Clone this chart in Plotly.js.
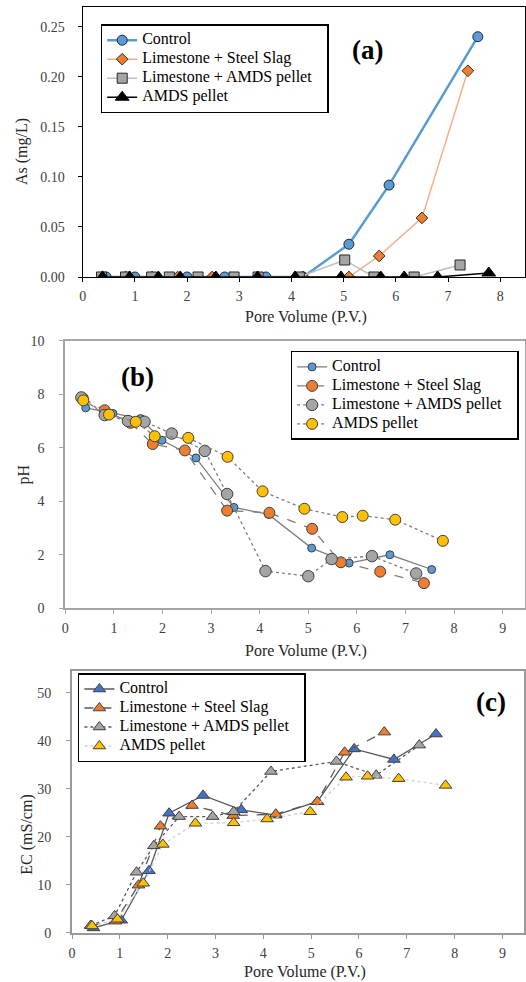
<!DOCTYPE html>
<html>
<head>
<meta charset="utf-8">
<script src="https://cdn.plot.ly/plotly-3.0.1.min.js"></script>
<style>html,body{margin:0;padding:0;background:#fff;}#chart{width:526px;height:982px;}</style>
</head>
<body>
<div id="chart"></div>
<script>
// ---------- Panel (a): As (mg/L) ----------
const seriesNames = ["Control", "Limestone + Steel Slag", "Limestone + AMDS pellet", "AMDS pellet"];

const asControlX = [0.45, 1.0, 2.0, 2.72, 3.51, 4.22, 5.1, 5.87, 7.57];
const asControlY = [0, 0, 0, 0, 0, 0, 0.0327, 0.0918, 0.240];
const asSlagX = [0.38, 0.82, 1.33, 1.82, 2.48, 3.35, 4.22, 5.1, 5.68, 6.5, 7.38];
const asSlagY = [0, 0, 0, 0, 0, 0, 0, 0, 0.021, 0.059, 0.206];
const asLimeAmdsX = [0.36, 0.82, 1.32, 1.66, 2.21, 2.9, 3.36, 4.15, 5.02, 5.58, 6.35, 7.23];
const asLimeAmdsY = [0, 0, 0, 0, 0, 0, 0, 0, 0.017, 0, 0, 0.012];
const asAmdsX = [0.38, 0.9, 1.45, 1.87, 2.55, 3.35, 4.07, 4.95, 5.71, 6.16, 6.8, 7.78];
const asAmdsY = [0, 0, 0, 0, 0, 0, 0, 0, 0, 0, 0, 0.004];

// ---------- Panel (b): pH ----------
const phControlX = [0.42, 0.98, 1.55, 1.99, 2.69, 3.47, 4.18, 5.07, 5.84, 6.68, 7.54];
const phControlY = [7.49, 7.28, 7.09, 6.28, 5.62, 3.77, 3.51, 2.25, 1.69, 2.0, 1.45];
const phSlagX = [0.36, 0.81, 1.34, 1.8, 2.46, 3.33, 4.2, 5.08, 5.67, 6.48, 7.38];
const phSlagY = [7.85, 7.4, 6.93, 6.14, 5.9, 3.65, 3.57, 2.97, 1.72, 1.37, 0.94];
const phLimeAmdsX = [0.33, 0.81, 1.29, 1.63, 2.19, 2.87, 3.33, 4.12, 5.0, 5.48, 6.31, 7.22];
const phLimeAmdsY = [7.88, 7.22, 7.0, 6.97, 6.53, 5.88, 4.27, 1.39, 1.2, 1.84, 1.95, 1.3];
const phAmdsX = [0.37, 0.9, 1.45, 1.84, 2.53, 3.34, 4.06, 4.92, 5.7, 6.12, 6.79, 7.77];
const phAmdsY = [7.77, 7.24, 6.97, 6.43, 6.37, 5.66, 4.37, 3.72, 3.41, 3.46, 3.31, 2.52];

// ---------- Panel (c): EC (mS/cm) ----------
const ecControlX = [0.45, 1.03, 1.61, 2.03, 2.74, 3.54, 4.26, 5.13, 5.9, 6.73, 7.61];
const ecControlY = [1.0, 2.6, 12.9, 24.9, 28.6, 25.6, 24.5, 27.3, 38.3, 36.1, 41.4];
const ecSlagX = [0.4, 0.91, 1.39, 1.85, 2.51, 3.37, 4.26, 5.13, 5.7, 6.53];
const ecSlagY = [1.5, 2.4, 9.9, 22.2, 26.5, 24.4, 24.7, 27.3, 37.6, 41.8];
const ecLimeAmdsX = [0.39, 0.89, 1.35, 1.71, 2.24, 2.94, 3.38, 4.16, 5.53, 6.36, 7.26];
const ecLimeAmdsY = [1.5, 3.5, 12.6, 18.1, 24.2, 24.2, 25.2, 33.6, 35.7, 32.8, 39.1];
const ecAmdsX = [0.42, 0.95, 1.49, 1.9, 2.58, 3.38, 4.08, 4.98, 5.73, 6.18, 6.83, 7.81];
const ecAmdsY = [1.4, 2.8, 10.3, 18.4, 22.8, 22.9, 23.7, 25.2, 32.4, 32.6, 32.1, 30.7];

const xTitle = "Pore Volume (P.V.)";
const yTitles = ["As (mg/L)", "pH", "EC (mS/cm)"];
const panelLabels = ["(a)", "(b)", "(c)"];

const FONT = "Liberation Serif";
const W = 526, H = 982;
const px = v => v / W;
const py = v => 1 - v / H;
// legend entry text drawn at 16px while rows keep the compact spacing of the original;
// a little trailing space widens the legend box like the original
const legName = s => '<span style="font-size:16px">' + s + '</span><span style="font-size:20px">&nbsp;&nbsp;</span>';

const traces = [
  // (a)
  {x: asControlX, y: asControlY, name: legName(seriesNames[0]), xaxis: "x", yaxis: "y", legend: "legend",
   mode: "lines+markers", line: {color: "#5B9BD5", width: 2.5},
   marker: {symbol: "circle", size: 10, color: "#5B9BD5", line: {color: "#1f2a36", width: 1}}},
  {x: asSlagX, y: asSlagY, name: legName(seriesNames[1]), xaxis: "x", yaxis: "y", legend: "legend",
   mode: "lines+markers", line: {color: "#F4B183", width: 1.5},
   marker: {symbol: "diamond", size: 9, color: "#ED7D31", line: {color: "#3a2a1f", width: 1}}},
  {x: asLimeAmdsX, y: asLimeAmdsY, name: legName(seriesNames[2]), xaxis: "x", yaxis: "y", legend: "legend",
   mode: "lines+markers", line: {color: "#BFBFBF", width: 1.5},
   marker: {symbol: "square", size: 10, color: "#A5A5A5", line: {color: "#262626", width: 1}}},
  {x: asAmdsX, y: asAmdsY, name: legName(seriesNames[3]), xaxis: "x", yaxis: "y", legend: "legend",
   mode: "lines+markers", line: {color: "#000000", width: 1.5},
   marker: {symbol: "triangle-up", size: 12, color: "#000000", line: {color: "#000000", width: 1}}},
  // (b)
  {x: phControlX, y: phControlY, name: legName(seriesNames[0]), xaxis: "x2", yaxis: "y2", legend: "legend2",
   mode: "lines+markers", line: {color: "#7F7F7F", width: 1.3},
   marker: {symbol: "circle", size: 8, color: "#5B9BD5", line: {color: "#404040", width: 1}}},
  {x: phSlagX, y: phSlagY, name: legName(seriesNames[1]), xaxis: "x2", yaxis: "y2", legend: "legend2",
   mode: "lines+markers", line: {color: "#7F7F7F", width: 1.3, dash: "dash"},
   marker: {symbol: "circle", size: 11, color: "#ED7D31", line: {color: "#404040", width: 1}}},
  {x: phLimeAmdsX, y: phLimeAmdsY, name: legName(seriesNames[2]), xaxis: "x2", yaxis: "y2", legend: "legend2",
   mode: "lines+markers", line: {color: "#7F7F7F", width: 1.3, dash: "dot"},
   marker: {symbol: "circle", size: 11.5, color: "#A5A5A5", line: {color: "#404040", width: 1}}},
  {x: phAmdsX, y: phAmdsY, name: legName(seriesNames[3]), xaxis: "x2", yaxis: "y2", legend: "legend2",
   mode: "lines+markers", line: {color: "#7F7F7F", width: 1.3, dash: "dot"},
   marker: {symbol: "circle", size: 11, color: "#FFC000", line: {color: "#404040", width: 1}}},
  // (c)
  {x: ecControlX, y: ecControlY, name: legName(seriesNames[0]), xaxis: "x3", yaxis: "y3", legend: "legend3",
   mode: "lines+markers", line: {color: "#595959", width: 1.3},
   marker: {symbol: "triangle-up", size: 11, color: "#4472C4", line: {color: "#404040", width: 1}}},
  {x: ecSlagX, y: ecSlagY, name: legName(seriesNames[1]), xaxis: "x3", yaxis: "y3", legend: "legend3",
   mode: "lines+markers", line: {color: "#595959", width: 1.3, dash: "dash"},
   marker: {symbol: "triangle-up", size: 11, color: "#ED7D31", line: {color: "#404040", width: 1}}},
  {x: ecLimeAmdsX, y: ecLimeAmdsY, name: legName(seriesNames[2]), xaxis: "x3", yaxis: "y3", legend: "legend3",
   mode: "lines+markers", line: {color: "#595959", width: 1.3, dash: "dot"},
   marker: {symbol: "triangle-up", size: 11, color: "#A5A5A5", line: {color: "#404040", width: 1}}},
  {x: ecAmdsX, y: ecAmdsY, name: legName(seriesNames[3]), xaxis: "x3", yaxis: "y3", legend: "legend3",
   mode: "lines+markers", line: {color: "#D0D0D0", width: 1.3, dash: "dot"},
   marker: {symbol: "triangle-up", size: 11, color: "#FFC000", line: {color: "#404040", width: 1}}}
];

const tickFont = {family: FONT, size: 14, color: "#404040"};
function xAx(dom, anchor, range, lineColor, lw) {
  return {domain: dom, anchor: anchor, range: range, dtick: 1, tick0: 0,
    showline: true, mirror: true, linecolor: lineColor, linewidth: lw,
    ticks: "outside", ticklen: 4, tickcolor: lineColor, tickwidth: 1,
    showgrid: false, zeroline: false, tickfont: tickFont, ticklabelstandoff: 2};
}
function yAx(dom, anchor, range, dtick, fmt, lineColor, lw, standoff) {
  return {domain: dom, anchor: anchor, range: range, dtick: dtick, tick0: 0, tickformat: fmt,
    showline: true, mirror: true, linecolor: lineColor, linewidth: lw,
    ticks: "outside", ticklen: 4, tickcolor: lineColor, tickwidth: 1,
    showgrid: false, zeroline: false, tickfont: tickFont, ticklabelstandoff: standoff};
}

const legendFont = {family: FONT, size: 11, color: "#000000"};
function leg(x, y) {
  return {x: x, y: y, xanchor: "left", yanchor: "top", xref: "paper", yref: "paper",
    bgcolor: "#FFFFFF", bordercolor: "#000000", borderwidth: 1.5, font: legendFont,
    tracegroupgap: 0, itemwidth: 30};
}

const titleFont = {family: FONT, size: 16, color: "#262626"};
function ann(text, x, y, angle, font) {
  return {text: text, x: px(x), y: py(y), xref: "paper", yref: "paper", showarrow: false,
    xanchor: "center", yanchor: "middle", textangle: angle || 0, font: font || titleFont};
}
const labelFont = {family: FONT, size: 27, color: "#000000"};

const layout = {
  width: W, height: H,
  margin: {l: 0, r: 0, t: 0, b: 0},
  paper_bgcolor: "#FFFFFF", plot_bgcolor: "#FFFFFF",
  font: {family: FONT},
  showlegend: true,
  xaxis: xAx([px(82.7), px(525.3)], "y", [0, 8.48], "#000000", 1.2),
  yaxis: yAx([py(277), py(6.7)], "x", [0, 0.27], 0.05, ".2f", "#000000", 1.2, 10),
  xaxis2: xAx([px(65.3), px(525)], "y2", [0, 9.46], "#A6A6A6", 2),
  yaxis2: yAx([py(608.3), py(340.7)], "x2", [0, 10], 2, "", "#A6A6A6", 2, 12),
  xaxis3: xAx([px(72), px(524)], "y3", [0, 9.45], "#999999", 2),
  yaxis3: yAx([py(932.7), py(670.7)], "x3", [0, 54.6], 10, "", "#999999", 2, 12),
  legend: leg(px(100.7), py(24.2)),
  legend2: leg(px(290.6), py(350.9)),
  legend3: leg(px(77.9), py(673)),
  annotations: [
    ann(xTitle, 306, 317),
    ann(xTitle, 306, 650.7),
    ann(xTitle, 305, 971.5),
    ann(yTitles[0], 22, 152, -90),
    ann(yTitles[1], 23, 474.5, -90),
    ann(yTitles[2], 27, 834.7, -90),
    ann("<b>" + panelLabels[0] + "</b>", 367.5, 50.3, 0, labelFont),
    ann("<b>" + panelLabels[1] + "</b>", 137.6, 377.1, 0, labelFont),
    ann("<b>" + panelLabels[2] + "</b>", 490.6, 702.1, 0, labelFont)
  ]
};

Plotly.newPlot("chart", traces, layout, {displayModeBar: false, staticPlot: true});
</script>
</body>
</html>
